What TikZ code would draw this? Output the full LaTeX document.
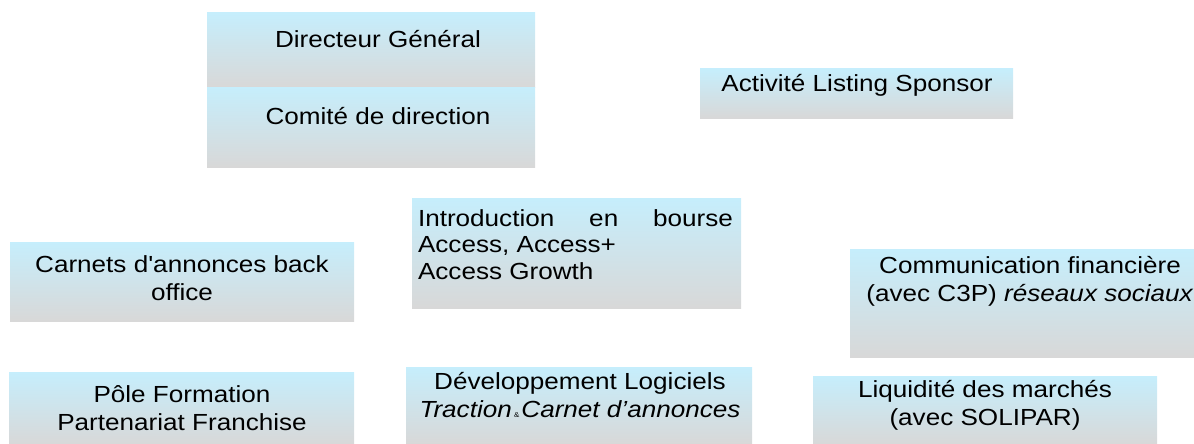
\documentclass[tikz,border=0pt]{standalone}
\usepackage{fontspec}
\setmainfont{Liberation Sans}[FakeStretch=1.12, Ligatures=TeXOff]
\definecolor{paneltop}{RGB}{198,238,252}
\definecolor{panelbottom}{RGB}{216,216,216}
\newcommand{\pbox}[3]{\node[panel, minimum width=#2, minimum height=#3]}
\begin{document}
\begin{tikzpicture}[x=1pt,y=-1pt,
  panel/.style={rectangle, draw=none, inner sep=0pt, outer sep=0pt,
    anchor=north west, top color=paneltop, bottom color=panelbottom},
  caption/.style={inner sep=0pt, outer sep=0pt, anchor=base,
    font=\fontsize{23.3}{28}\selectfont}]
\useasboundingbox (0,0) rectangle (1194,444);

% shaded panels
\node[panel, minimum width=328pt, minimum height=74pt] (dg)   at (207,13)  {};
\node[panel, minimum width=328pt, minimum height=80pt] (cd)   at (207,87)  {};
\node[panel, minimum width=313pt, minimum height=49pt] (als)  at (700,69)  {};
\node[panel, minimum width=329pt, minimum height=110pt] (ieb) at (412,198) {};
\node[panel, minimum width=344pt, minimum height=79pt] (cab)  at (10,242)  {};
\node[panel, minimum width=344pt, minimum height=108pt] (com) at (850,249) {};
\node[panel, minimum width=345pt, minimum height=72pt] (pole) at (9,372)   {};
\node[panel, minimum width=346pt, minimum height=77pt] (dev)  at (406,367) {};
\node[panel, minimum width=344pt, minimum height=68pt] (liq)  at (813,376) {};

% captions
\node[caption] (dgt)  at (378,48)  {Directeur Général};
\node[caption] (cdt)  at (378,124) {Comité de direction};
\node[caption] (alst) at (857,92)  {Activité Listing Sponsor};
\node[caption, anchor=base west, font=\fontsize{23.3}{26.6}\selectfont] (iebt) at (418,226)
  {\begin{tabular}[t]{@{}l@{}}\makebox[315pt][s]{Introduction en bourse}\\Access, Access+\\Access Growth\end{tabular}};
\node[caption] (cabt) at (182,272)
  {\begin{tabular}[t]{@{}c@{}}Carnets d'annonces back\\office\end{tabular}};
\node[caption] (comt) at (1030,273)
  {\begin{tabular}[t]{@{}c@{}}Communication financière\\(avec C3P) \textit{réseaux sociaux}\end{tabular}};
\node[caption] (polet) at (182,402)
  {\begin{tabular}[t]{@{}c@{}}Pôle Formation\\Partenariat Franchise\end{tabular}};
\node[caption] (devt) at (580,389)
  {\begin{tabular}[t]{@{}c@{}}Développement Logiciels\\\textit{Traction}{\fontsize{7}{8}\selectfont\ \&\ }\textit{Carnet d’annonces}\end{tabular}};
\node[caption] (liqt) at (985,397)
  {\begin{tabular}[t]{@{}c@{}}Liquidité des marchés\\(avec SOLIPAR)\end{tabular}};
\end{tikzpicture}
\end{document}
